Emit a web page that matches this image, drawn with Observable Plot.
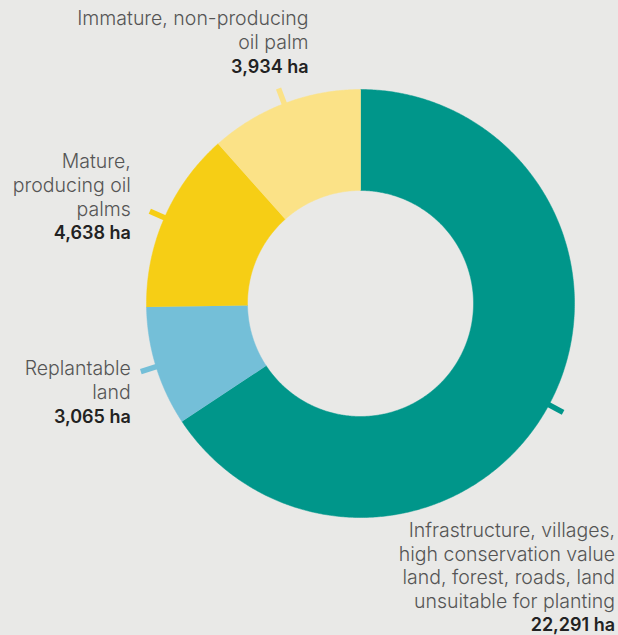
<!DOCTYPE html>
<html><head><meta charset="utf-8">
<script src="https://cdn.jsdelivr.net/npm/d3@7"></script>
<script src="https://cdn.jsdelivr.net/npm/@observablehq/plot@0.6"></script>
<style>
html,body{margin:0;padding:0;background:#e9e9e7;}
#chart{width:618px;height:635px;overflow:hidden;}
</style>
</head><body><div id="chart"></div>
<script>
// ---- data ----
const categories = ["Infrastructure", "Replantable", "Mature", "Immature"];
const descriptions = [
  "Infrastructure, villages,\nhigh conservation value\nland, forest, roads, land\nunsuitable for planting",
  "Replantable\nland",
  "Mature,\nproducing oil\npalms",
  "Immature, non-producing\noil palm"
];
const values = [22291, 3065, 4638, 3934];
const unit = "ha";

// ---- style / layout ----
const colors = ["#00968a", "#74bfd8", "#f6ce15", "#fbe287"];
const outerR = 214, innerR = 113, tickR0 = 212, tickR1 = 230;
// label offset (px) of value baseline/right edge relative to tick end
const labelOffset = [[52, 219], [-10, 51], [-19, 28], [30, -16]];
const lineH = 23.6;
const fsDesc = 19.5, fsVal = 18;

const pie = d3.pie().sort(null).value(d => d.value);
const arcs = pie(categories.map((c, i) => ({key: c, value: values[i], i})));

const pts = [];
for (const a of arcs) {
  const n = Math.max(2, Math.ceil((a.endAngle - a.startAngle) / (Math.PI / 360)));
  for (let k = 0; k <= n; k++) {
    const t = a.startAngle + (a.endAngle - a.startAngle) * k / n;
    pts.push({key: a.data.key, x: outerR * Math.sin(t), y: outerR * Math.cos(t)});
  }
  for (let k = n; k >= 0; k--) {
    const t = a.startAngle + (a.endAngle - a.startAngle) * k / n;
    pts.push({key: a.data.key, x: innerR * Math.sin(t), y: innerR * Math.cos(t)});
  }
}

const ticks = arcs.map(a => {
  const m = (a.startAngle + a.endAngle) / 2;
  return {key: a.data.key, i: a.data.i,
    x1: tickR0 * Math.sin(m), y1: tickR0 * Math.cos(m),
    x2: tickR1 * Math.sin(m), y2: tickR1 * Math.cos(m)};
});
const labelData = ticks.map(t => ({
  key: t.key,
  x: t.x2 + labelOffset[t.i][0],
  y: t.y2 - labelOffset[t.i][1],
  desc: descriptions[t.i],
  val: d3.format(",")(values[t.i]) + " " + unit
}));

const font = "Inter, sans-serif";
const plot = Plot.plot({
  width: 618, height: 635, margin: 0,
  x: {axis: null, domain: [-360, 258]},
  y: {axis: null, domain: [-332, 303]},
  color: {domain: categories, range: colors},
  style: {background: "#e9e9e7", fontFamily: font},
  marks: [
    Plot.line(pts, {x: "x", y: "y", z: "key", fill: "key", stroke: "key", strokeWidth: 0.5}),
    Plot.link(ticks, {x1: "x1", y1: "y1", x2: "x2", y2: "y2", stroke: "key", strokeWidth: 5.5}),
    Plot.text(labelData, {x: "x", y: "y", text: "val", textAnchor: "end", lineAnchor: "bottom",
      fontSize: fsVal, fontWeight: 600, fill: "#222"}),
    Plot.text(labelData, {x: "x", y: "y", dy: -lineH, text: "desc", textAnchor: "end", lineAnchor: "bottom",
      fontSize: fsDesc, fontWeight: 300, fill: "#555", lineHeight: lineH / fsDesc})
  ]
});
document.getElementById("chart").appendChild(plot);
</script>
</body></html>
